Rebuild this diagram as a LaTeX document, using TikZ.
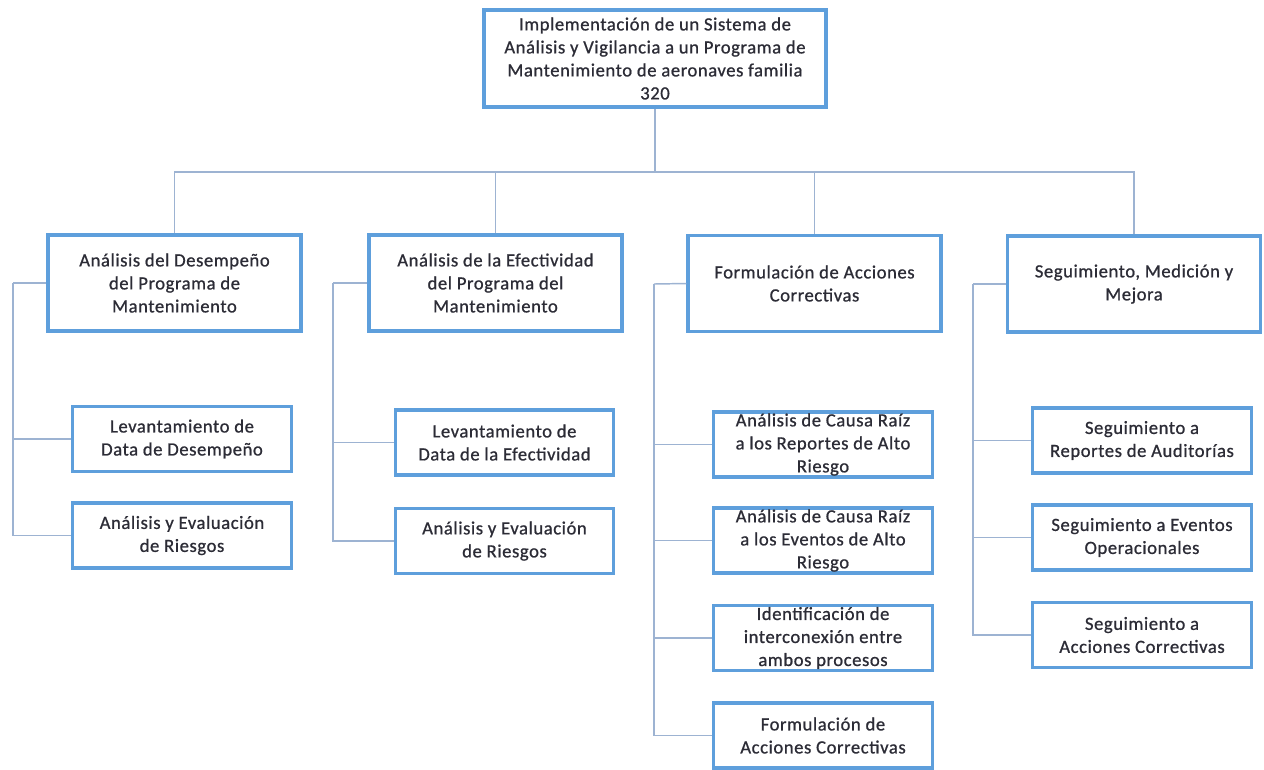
\documentclass[tikz,border=0pt]{standalone}
\usepackage{fontspec}
\setmainfont{Carlito}[LetterSpace=3,FakeBold=0.8]
\definecolor{boxblue}{HTML}{5E9FDC}
\definecolor{linkblue}{HTML}{9DB3D2}
\definecolor{inkgray}{HTML}{2C2C36}
\begin{document}
\begin{tikzpicture}[x=0.75pt,y=-0.75pt,
  card/.style={draw=boxblue, line width=2.3pt, fill=white, align=center,
    text=inkgray, inner sep=0.5pt,
    font=\fontsize{14pt}{17.25pt}\selectfont},
  rootbox/.style={card, minimum width=256.5pt, minimum height=72.75pt},
  areabox/.style={card, minimum width=189.75pt, minimum height=72pt},
  taskbox/.style={card, minimum width=164pt, minimum height=48.75pt},
  link/.style={draw=linkblue, line width=1.1pt}]
\useasboundingbox[fill=white] (0,0) rectangle (1264,769);

% root
\node[rootbox] (root) at (655,58.5) {Implementación de un Sistema de\\
  Análisis y Vigilancia a un Programa de\\
  Mantenimiento de aeronaves familia\\ 320};

% second level
\node[areabox] (a1) at (174.5,283) {Análisis del Desempeño\\ del Programa de\\ Mantenimiento};
\node[areabox] (a2) at (495.5,283) {Análisis de la Efectividad\\ del Programa del\\ Mantenimiento};
\node[areabox] (a3) at (814.5,283.5) {Formulación de Acciones\\ Correctivas};
\node[areabox] (a4) at (1134,284) {Seguimiento, Medición y\\ Mejora};

% tasks, column 1
\node[taskbox] (t11) at (182,439) {Levantamiento de\\ Data de Desempeño};
\node[taskbox] (t12) at (182,535.5) {Análisis y Evaluación\\ de Riesgos};
% tasks, column 2
\node[taskbox] (t21) at (504.5,442.5) {Levantamiento de\\ Data de la Efectividad};
\node[taskbox] (t22) at (504.5,541) {Análisis y Evaluación\\ de Riesgos};
% tasks, column 3
\node[taskbox] (t31) at (823,444.5) {Análisis de Causa Raíz\\ a los Reportes de Alto\\ Riesgo};
\node[taskbox] (t32) at (823,540.5) {Análisis de Causa Raíz\\ a los Eventos de Alto\\ Riesgo};
\node[taskbox] (t33) at (823,638) {Identificación de\\ interconexión entre\\ ambos procesos};
\node[taskbox] (t34) at (823,735.5) {Formulación de\\ Acciones Correctivas};
% tasks, column 4
\node[taskbox] (t41) at (1142,440.5) {Seguimiento a\\ Reportes de Auditorías};
\node[taskbox] (t42) at (1142,537.5) {Seguimiento a Eventos\\ Operacionales};
\node[taskbox] (t43) at (1142,635) {Seguimiento a\\ Acciones Correctivas};

% bus from the root to the four areas
\coordinate (hub) at (655,172);
\draw[link] (root.south) -- (hub);
\foreach \a in {a1,a2,a3,a4} \draw[link] (\a.north) |- (hub);

% left-hand brackets of each area
\coordinate (k1) at (13,283);
\coordinate (k2) at (333,283);
\coordinate (k3) at (654,284);
\coordinate (k4) at (973,284);
\draw[link] (a1.west) -- (k1);
\draw[link] (a2.west) -- (k2);
\draw[link] (a3.west) -- (k3);
\draw[link] (a4.west) -- (k4);
\foreach \t in {t11,t12} \draw[link] (k1) |- (\t.west);
\foreach \t in {t21,t22} \draw[link] (k2) |- (\t.west);
\foreach \t in {t31,t32,t33,t34} \draw[link] (k3) |- (\t.west);
\foreach \t in {t41,t42,t43} \draw[link] (k4) |- (\t.west);
\end{tikzpicture}
\end{document}
